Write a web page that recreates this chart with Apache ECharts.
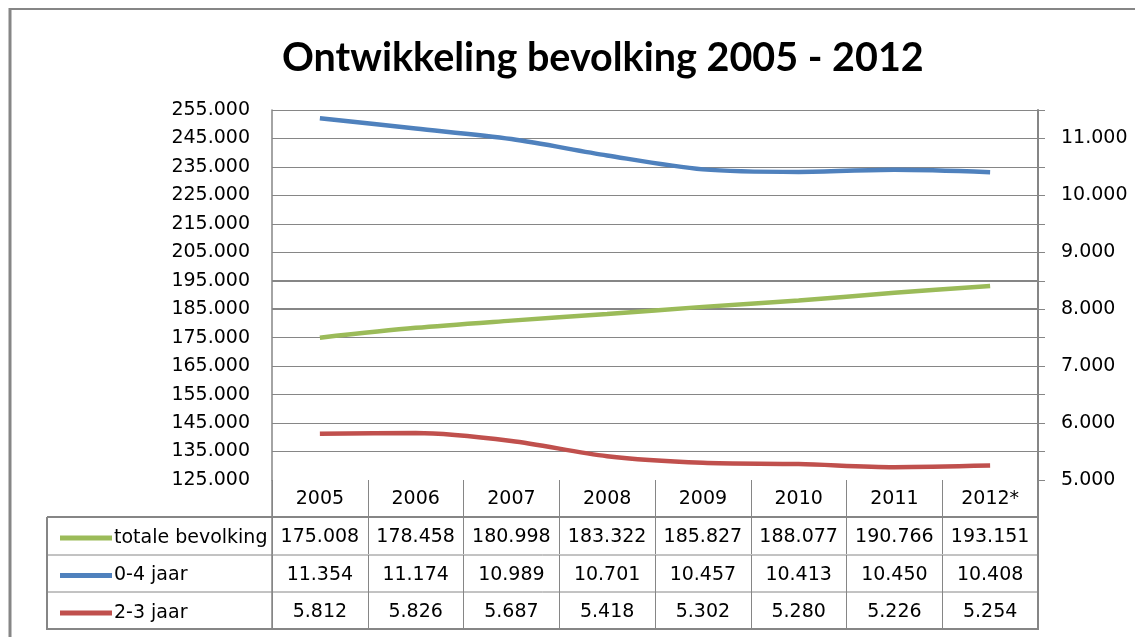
<!DOCTYPE html>
<html>
<head>
<meta charset="utf-8">
<script src="https://cdn.jsdelivr.net/npm/echarts@6/dist/echarts.min.js"></script>
<style>
  html, body { margin: 0; padding: 0; background: #fff; }
  #chart { width: 1135px; height: 637px; }
</style>
</head>
<body>
<div id="chart"></div>
<script>
const years = ['2005', '2006', '2007', '2008', '2009', '2010', '2011', '2012*'];
const totaleBevolking = [175008, 178458, 180998, 183322, 185827, 188077, 190766, 193151];
const jaar04 = [11354, 11174, 10989, 10701, 10457, 10413, 10450, 10408];
const jaar23 = [5812, 5826, 5687, 5418, 5302, 5280, 5226, 5254];
const seriesNames = ['totale bevolking', '0-4 jaar', '2-3 jaar'];

// dutch thousands separator
const fmt = (v) => String(v).replace(/\B(?=(\d{3})+(?!\d))/g, '.');

const FONT = 'DejaVu Sans';
const GREY = '#868686';
const GREEN = '#9bbb59';
const BLUE = '#4f81bd';
const RED = '#c0504d';

const chart = echarts.init(document.getElementById('chart'));

// one extra category axis per table row, only used for the cell texts and dividers
const rowAxis = (data, offset) => ({
    type: 'category',
    gridIndex: 0,
    position: 'bottom',
    offset: offset,
    data: data.map(fmt),
    axisLine: { show: false },
    axisTick: { show: true, length: 37, interval: 0, lineStyle: { color: GREY, width: 1 } },
    axisLabel: { interval: 0, margin: 11, color: '#000', fontFamily: FONT, fontSize: 19 },
    splitLine: { show: false }
});

chart.setOption({
    animation: false,
    backgroundColor: '#fff',
    title: {
        text: 'Ontwikkeling bevolking 2005 - 2012',
        left: 277,
        top: 33,
        textStyle: { fontFamily: 'Lato', fontWeight: 'bold', fontSize: 39.5, color: '#000' }
    },
    legend: {
        orient: 'vertical',
        left: 55,
        top: 523,
        itemWidth: 52,
        itemHeight: 5,
        itemGap: 17.5,
        icon: 'rect',
        data: seriesNames,
        textStyle: { fontFamily: FONT, fontSize: 19, lineHeight: 20, color: '#000', padding: [0, 0, 0, -3] }
    },
    grid: { left: 272, right: 97, top: 110, bottom: 157 },
    xAxis: [
        {
            type: 'category',
            data: years,
            boundaryGap: true,
            axisLine: { show: false },
            axisTick: { show: true, length: 37, interval: 0, lineStyle: { color: GREY, width: 1 } },
            axisLabel: { interval: 0, margin: 10, color: '#000', fontFamily: FONT, fontSize: 19 }
        },
        rowAxis(totaleBevolking, 37),
        rowAxis(jaar04, 75),
        rowAxis(jaar23, 112)
    ],
    yAxis: [
        {
            type: 'value',
            min: 125000,
            max: 255000,
            interval: 10000,
            axisLine: { show: true, lineStyle: { color: GREY, width: 1.5 } },
            axisTick: { show: false },
            axisLabel: { margin: 22, color: '#000', fontFamily: FONT, fontSize: 19, formatter: fmt },
            splitLine: { show: true, showMinLine: false, lineStyle: { color: GREY, width: 1 } }
        },
        {
            type: 'value',
            min: 5000,
            max: 11500,
            interval: 500,
            position: 'right',
            axisLine: { show: true, lineStyle: { color: GREY, width: 2 } },
            axisTick: { show: true, length: 7, lineStyle: { color: GREY, width: 1 } },
            axisLabel: {
                margin: 23, color: '#000', fontFamily: FONT, fontSize: 19,
                formatter: (v) => (v % 1000 === 0 ? fmt(v) : '')
            },
            splitLine: { show: false }
        }
    ],
    series: [
        {
            name: seriesNames[0],
            type: 'line',
            yAxisIndex: 0,
            data: totaleBevolking,
            smooth: 0.3,
            symbol: 'none',
            lineStyle: { color: GREEN, width: 4.5 },
            itemStyle: { color: GREEN },
            z: 3,
            markLine: {
                silent: true,
                symbol: 'none',
                label: { show: false },
                lineStyle: { color: GREY, width: 2, type: 'solid' },
                data: [{ yAxis: 185000 }, { yAxis: 195000 }],
                z: 1
            }
        },
        {
            name: seriesNames[1],
            type: 'line',
            yAxisIndex: 1,
            data: jaar04,
            smooth: 0.3,
            symbol: 'none',
            lineStyle: { color: BLUE, width: 4.5 },
            itemStyle: { color: BLUE },
            z: 3
        },
        {
            name: seriesNames[2],
            type: 'line',
            yAxisIndex: 1,
            data: jaar23,
            smooth: 0.3,
            symbol: 'none',
            lineStyle: { color: RED, width: 4.5 },
            itemStyle: { color: RED },
            z: 3
        }
    ]
});

// table frame and outer chart border
const tableLeft = 47;
const tableRight = chart.convertToPixel({ xAxisIndex: 0 }, years[years.length - 1]) + 47.9;
const rowY = [517, 555, 592, 629];
const lines = rowY.map((y, i) => ({
    type: 'line',
    shape: { x1: tableLeft, y1: y, x2: tableRight, y2: y },
    style: { stroke: GREY, lineWidth: (i === 0 || i === rowY.length - 1) ? 2 : 1 }
}));
lines.push(
    { type: 'line', shape: { x1: tableLeft, y1: 517, x2: tableLeft, y2: 630 }, style: { stroke: GREY, lineWidth: 2 } },
    { type: 'line', shape: { x1: 272, y1: 480, x2: 272, y2: 630 }, style: { stroke: GREY, lineWidth: 1.5 } },
    { type: 'line', shape: { x1: tableRight, y1: 480, x2: tableRight, y2: 630 }, style: { stroke: GREY, lineWidth: 2 } },
    { type: 'line', shape: { x1: 10, y1: 9, x2: 1135, y2: 9 }, style: { stroke: GREY, lineWidth: 2 } },
    { type: 'line', shape: { x1: 10, y1: 8, x2: 10, y2: 637 }, style: { stroke: GREY, lineWidth: 3 } }
);
chart.setOption({ graphic: lines });
</script>
</body>
</html>
